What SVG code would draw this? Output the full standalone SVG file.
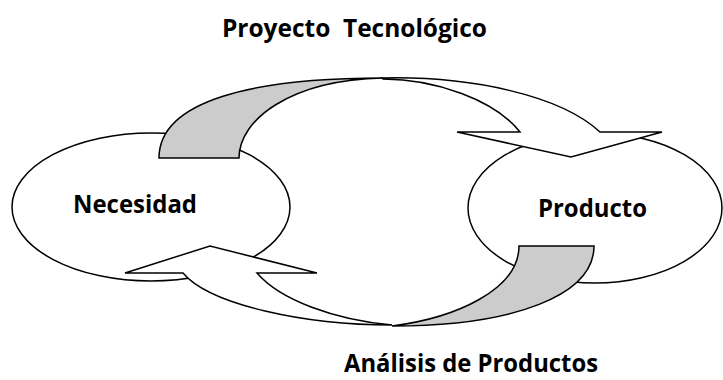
<svg xmlns="http://www.w3.org/2000/svg" width="723" height="380" viewBox="0 0 723 380">
<style>
.node{fill:#fff;stroke:#000;stroke-width:1.5}
.arrow{fill:#fff;stroke:#000;stroke-width:1.5;stroke-linejoin:miter}
.back{fill:#cccccc;stroke:#000;stroke-width:1.5}
.lbl{font-family:"Open Sans","Liberation Sans",sans-serif;font-weight:bold;font-size:25px;fill:#000;white-space:pre}
</style>
<rect width="723" height="380" fill="#fff"/>
<g id="necesidad">
<ellipse class="node" cx="151" cy="207" rx="139" ry="74"/>
<text class="lbl" x="73" y="213" textLength="124" lengthAdjust="spacingAndGlyphs">Necesidad</text>
</g>
<g id="producto">
<ellipse class="node" cx="595" cy="208" rx="127" ry="75"/>
<text class="lbl" x="538" y="217" textLength="109" lengthAdjust="spacingAndGlyphs">Producto</text>
</g>
<g id="connectors">
<g id="proyecto-tecnologico">
<path class="back" d="M159,158 C159,100 255,78 383,78 C290,80 239,120 239,158 Z"/>
<path class="arrow" d="M383,78 C470,76 560,95 600,132 L662,132 L571,157 L457,132 L520,132 C495,100 435,79 383,79 Z"/>
<text class="lbl" x="222" y="37" textLength="265" lengthAdjust="spacingAndGlyphs">Proyecto  Tecnológico</text>
</g>
<g id="analisis-productos">
<path class="back" d="M519,246 L594,246 C594,295 515,326 392,326 C455,318 519,290 519,246 Z"/>
<path class="arrow" d="M125,273 L210,246 L317,273 L257,273 C280,300 335,320 392,325 C305,325 210,305 183,273 Z"/>
<text class="lbl" x="344" y="372" textLength="254" lengthAdjust="spacingAndGlyphs">Análisis de Productos</text>
</g>
</g>
</svg>
